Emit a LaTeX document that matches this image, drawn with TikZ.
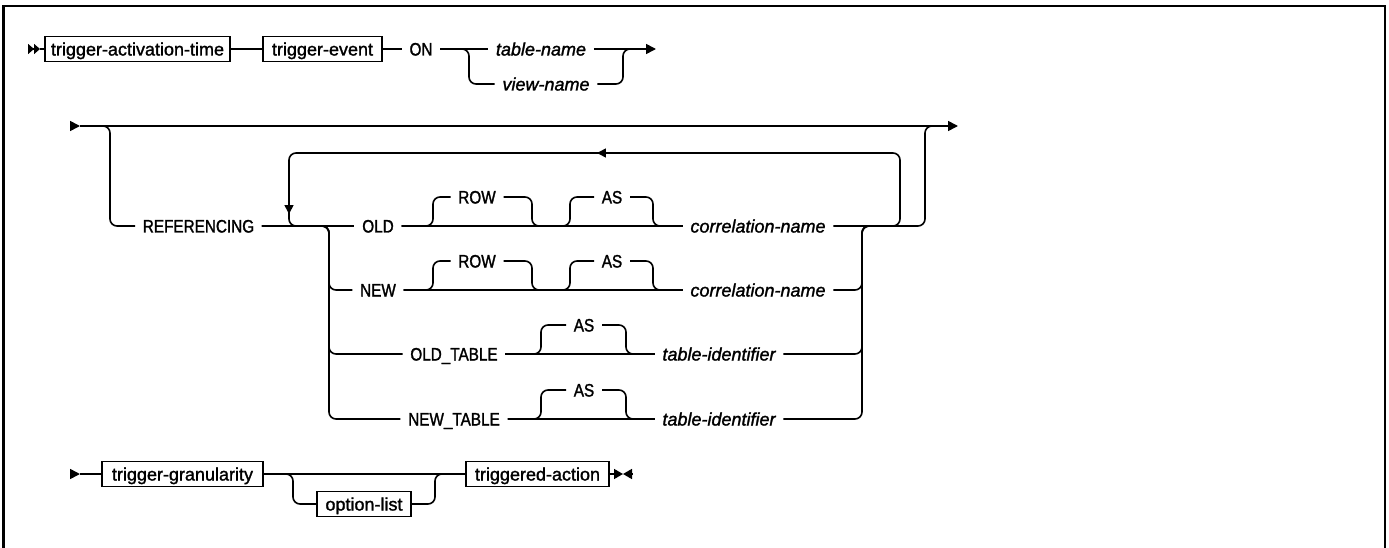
\documentclass[tikz,border=0pt]{standalone}
\usepackage{fontspec}
\setmainfont{Liberation Sans}[FakeBold=1.5]
\newfontfamily\kwfont{Liberation Sans}[FakeBold=1.5, FakeStretch=0.85]
\usetikzlibrary{arrows.meta,decorations.markings}

\begin{document}
\begin{tikzpicture}[
    x=1pt, y=-1pt,
    font=\fontsize{18}{21}\selectfont,
    line width=1.6pt,
    box/.style={draw, rectangle, minimum height=25pt, text height=13pt, text depth=0pt, inner xsep=6pt, inner ysep=0pt},
    kw/.style={rectangle, font=\kwfont\fontsize{18}{21}\selectfont, text height=13pt, text depth=0pt, inner xsep=7pt, inner ysep=2pt},
    var/.style={kw, font=\rmfamily\fontsize{18}{21}\selectfont\itshape},
    rail/.style={rounded corners=7pt},
    arrow/.style={-{Triangle[length=10pt,width=10pt]}},
    endmark/.style={-{Triangle[length=9pt,width=10pt]}},
    startmark/.style={-{Triangle[length=6pt,width=10pt]Triangle[length=6pt,width=10pt]}},
    loopmark/.style={postaction={decorate}, decoration={markings,
        mark=at position 408pt with {\arrow{Triangle[length=9pt,width=9pt]}},
        mark=at position 774pt with {\arrow{Triangle[length=9pt,width=9pt]}}}}
]
    \useasboundingbox (0,0) rectangle (1389,548);
    % Frame
    \draw[line width=2.5pt] (3.5,548) -- (3.5,6) -- (1385,6) -- (1385,548);

    % Row 1
    \coordinate (s1) at (28,49);
    \coordinate (s1a) at (40,49);
    \node[box, minimum width=185pt] (tat) at (137.5,49) {trigger-activation-time};
    \node[box, minimum width=119pt] (tev) at (322.5,49) {trigger-event};
    \node[kw] (on) at (421,49) {ON};
    \node[var] (tn) at (541,49) {table-name};
    \node[var] (vn) at (546,84) {view-name};
    \coordinate (c1l) at (469,49);
    \coordinate (c1r) at (623,49);
    \coordinate (e1) at (656,49);

    \draw[startmark] (s1) -- (s1a);
    \draw (s1a) -- (tat);
    \draw (tat) -- (tev);
    \draw (tev) -- (on);
    \draw (on) -- (tn);
    \draw[arrow] (tn) -- (e1);
    \draw[rail] (on.east) -| (c1l |- vn) -- (vn.west);
    \draw[rail] (vn.east) -| (c1r) -- ++(12,0);

    % Row 2
    \coordinate (s2) at (70,126);
    \coordinate (s2a) at (80,126);
    \coordinate (e2) at (958,126);
    \coordinate (r2l) at (110,126);
    \coordinate (r2r) at (925,126);
    \node[kw] (ref) at (198.5,226) {REFERENCING};
    \coordinate (alt) at (329,226);
    \coordinate (mrg) at (862,226);
    \coordinate (lpr) at (900,153);
    \coordinate (lpl) at (289,226);

    % OLD / NEW with optional ROW and AS
    \foreach \nm/\lbl/\y in {old/OLD/226, new/NEW/290} {
        \node[kw] (\nm) at (378,\y) {\lbl};
        \node[kw] (\nm-row) at (477,\y-29) {ROW};
        \node[kw] (\nm-as) at (612,\y-29) {AS};
        \node[var] (\nm-cn) at (758,\y) {correlation-name};
        \draw (\nm) -- (\nm-cn);
        \draw[rail] (\nm.east) -| (433,\y-29) -- (\nm-row.west);
        \draw[rail] (\nm-row.east) -| (532,\y) -- (\nm-cn.west);
        \draw[rail] (\nm.east) -| (570,\y-29) -- (\nm-as.west);
        \draw[rail] (\nm-as.east) -| (653,\y) -- (\nm-cn.west);
    }

    % OLD_TABLE / NEW_TABLE with optional AS
    \foreach \nm/\lbl/\y in {oldt/OLD\_TABLE/354, newt/NEW\_TABLE/419} {
        \node[kw] (\nm) at (454,\y) {\lbl};
        \node[kw] (\nm-as) at (584,\y-29) {AS};
        \node[var] (\nm-ti) at (719,\y) {table-identifier};
        \draw (\nm) -- (\nm-ti);
        \draw[rail] (\nm.east) -| (541,\y-29) -- (\nm-as.west);
        \draw[rail] (\nm-as.east) -| (626,\y) -- (\nm-ti.west);
    }

    \draw[arrow] (s2) -- (s2a);
    \draw[arrow] (s2a) -- (e2);
    \draw[rail] (s2a) -| (r2l |- ref) -- (ref.west);
    \draw (ref) -- (old);
    \foreach \nm/\cn in {new/new-cn, oldt/oldt-ti, newt/newt-ti} {
        \draw[rail] (ref.east) -| (alt |- \nm) -- (\nm.west);
        \draw[rail] (\cn.east) -| (mrg) -- ++(12,0);
    }
    \draw[rail] (old-cn.east) -| (r2r) -- ++(12,0);
    \draw[rail, loopmark] (mrg) -| (lpr) -| (lpl) -- (alt);

    % Row 3
    \coordinate (s3) at (70,474);
    \coordinate (s3a) at (80,474);
    \node[box, minimum width=161pt] (tg) at (182.5,474) {trigger-granularity};
    \node[box, minimum width=94pt] (ol) at (364,504) {option-list};
    \node[box, minimum width=143pt] (ta) at (537.5,474) {triggered-action};
    \coordinate (c3l) at (293,474);
    \coordinate (c3r) at (435,474);
    \coordinate (e3) at (623,474);
    \coordinate (e3b) at (632,474);

    \draw[arrow] (s3) -- (s3a);
    \draw (s3a) -- (tg);
    \draw (tg) -- (ta);
    \draw[rail] (tg.east) -| (c3l |- ol) -- (ol.west);
    \draw[rail] (ol.east) -| (c3r) -- (ta.west);
    \draw[endmark] (ta) -- (e3);
    \draw[endmark] (e3b) -- (e3);
\end{tikzpicture}
\end{document}
